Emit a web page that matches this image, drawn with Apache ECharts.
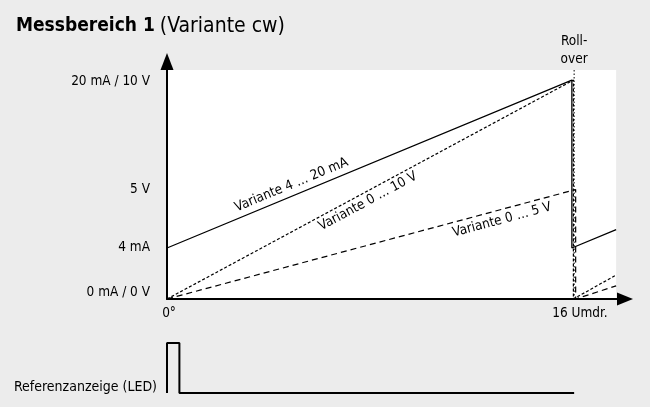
<!DOCTYPE html>
<html>
<head>
<meta charset="utf-8">
<script src="https://cdn.jsdelivr.net/npm/echarts@6/dist/echarts.min.js"></script>
<style>
	html, body { margin: 0; padding: 0; background: #ececec; }
	#chart { width: 650px; height: 407px; }
</style>
</head>
<body>
<div id="chart"></div>
<script>
	// x: Umdrehungen, y: Ausgang (20 = 20 mA bzw. 10 V)
	var strom4bis20 = [[0, 4.66], [16, 20], [16, 4.66], [17.75, 6.33]];
	var spannung0bis10 = [[0, 0], [16.06, 20], [16.06, 0], [17.75, 2.19]];
	var spannung0bis5 = [[0, 0], [16.15, 10], [16.15, 0], [17.75, 1.2]];
	var rollover = [[16.09, 0], [16.09, 21.1]];
	var ledSignal = [[0, 0], [0, 1], [0.49, 1], [0.49, 0], [16.09, 0]];

	var yTickValues = [0.55, 4.66, 10, 19.83];
	var yTickLabels = ['0 mA / 0 V', '4 mA', '5 V', '20 mA / 10 V'];
	var xTickValues = [0.08, 16.32];
	var xTickLabels = ['0°', '16 Umdr.'];
	var ledTickValues = [0.12];
	var ledTickLabels = ['Referenzanzeige (LED)'];

	// [x, y, text, winkel]
	var kurvenLabels = [
		[4.92, 10.42, 'Variante 4 … 20 mA', 22.5],
		[7.94, 8.91, 'Variante 0 … 10 V', 28.3],
		[13.24, 7.22, 'Variante 0 … 5 V', 15]
	];

	var FONT = "'DejaVu Sans Condensed', 'Liberation Sans Narrow', sans-serif";
	var chart = echarts.init(document.getElementById('chart'));

	var option = {
		backgroundColor: '#ececec',
		animation: false,
		title: {
			left: 11,
			top: 11,
			text: '{b|Messbereich 1} {r|(Variante cw)}',
			textStyle: {
				rich: {
					b: { fontFamily: FONT, fontWeight: 'bold', fontSize: 19, color: '#000' },
					r: { fontFamily: FONT, fontWeight: 'normal', fontSize: 21, color: '#000' }
				}
			}
		},
		grid: [
			{ left: 167, right: 25, top: 61.5, bottom: 108 },
			{ left: 167, right: 25, top: 343, bottom: 14 }
		],
		xAxis: [
			{
				type: 'value', gridIndex: 0, min: 0, max: 18.1, z: 5,
				splitLine: { show: false },
				axisTick: { show: false },
				axisLine: {
					symbol: ['none', 'triangle'], symbolSize: [13, 16],
					lineStyle: { color: '#000', width: 2 }
				},
				axisLabel: {
					customValues: xTickValues,
					margin: 7,
					color: '#000', fontFamily: FONT, fontSize: 13.5,
					formatter: function (v) { return xTickLabels[xTickValues.indexOf(v)]; }
				}
			},
			{ type: 'value', gridIndex: 1, min: 0, max: 18.1, show: false }
		],
		yAxis: [
			{
				type: 'value', gridIndex: 0, min: 0, max: 21.7, z: 5,
				splitLine: { show: false },
				axisTick: { show: false },
				axisLine: {
					show: true,
					symbol: ['none', 'triangle'], symbolSize: [13, 17],
					lineStyle: { color: '#000', width: 2 }
				},
				axisLabel: {
					customValues: yTickValues,
					margin: 17,
					color: '#000', fontFamily: FONT, fontSize: 13.5,
					formatter: function (v) { return yTickLabels[yTickValues.indexOf(v)]; }
				}
			},
			{
				type: 'value', gridIndex: 1, min: 0, max: 1,
				splitLine: { show: false },
				axisTick: { show: false },
				axisLine: { show: false },
				axisLabel: {
					customValues: ledTickValues,
					margin: 10,
					color: '#000', fontFamily: FONT, fontSize: 14,
					formatter: function (v) { return ledTickLabels[ledTickValues.indexOf(v)]; }
				}
			}
		],
		series: [
			{
				name: 'Rollover',
				type: 'line',
				data: rollover,
				symbol: 'none',
				z: 3,
				lineStyle: { color: '#000', width: 1, type: [1.5, 2] },
				markArea: {
					silent: true,
					itemStyle: { color: '#fff' },
					data: [[{ coord: [0, 0] }, { coord: [17.75, 20.92] }]]
				}
			},
			{
				name: 'Variante 4 … 20 mA',
				type: 'line',
				data: strom4bis20,
				symbol: 'none',
				z: 4,
				lineStyle: { color: '#000', width: 1.3 }
			},
			{
				name: 'Variante 0 … 10 V',
				type: 'line',
				data: spannung0bis10,
				symbol: 'none',
				z: 4,
				lineStyle: { color: '#000', width: 1.2, type: [3, 2] }
			},
			{
				name: 'Variante 0 … 5 V',
				type: 'line',
				data: spannung0bis5,
				symbol: 'none',
				z: 4,
				lineStyle: { color: '#000', width: 1.2, type: [6, 4] }
			},
			{
				name: 'Beschriftung',
				type: 'scatter',
				symbolSize: 0,
				z: 6,
				clip: false,
				itemStyle: { opacity: 1 },
				data: kurvenLabels.map(function (k) {
					return {
						value: [k[0], k[1]],
						label: {
							show: true, position: 'inside', rotate: k[3],
							formatter: k[2], opacity: 1,
							color: '#000', fontFamily: FONT, fontSize: 13.5
						}
					};
				}).concat([{
					value: rollover[1],
					label: {
						show: true, position: 'top', distance: 0,
						formatter: 'Roll-\nover', lineHeight: 18, opacity: 1,
						color: '#000', fontFamily: FONT, fontSize: 13.5
					}
				}])
			},
			{
				name: 'LED',
				type: 'line',
				xAxisIndex: 1,
				yAxisIndex: 1,
				data: ledSignal,
				symbol: 'none',
				lineStyle: { color: '#000', width: 2 }
			}
		]
	};

	chart.setOption(option);
</script>
</body>
</html>
